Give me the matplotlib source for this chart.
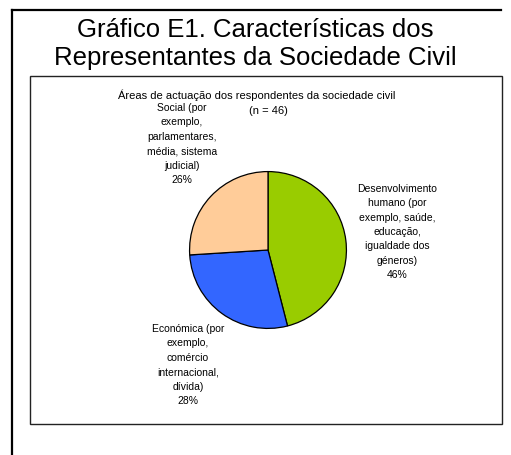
import matplotlib.pyplot as plt
from matplotlib.lines import Line2D
from matplotlib.patches import Rectangle

plt.rcParams['font.family'] = ['Liberation Sans', 'DejaVu Sans']

# areas of activity of civil society respondents (n = 46)
areas = ["Desenvolvimento\nhumano (por\nexemplo, saúde,\neducação,\nigualdade dos\ngéneros)",
         "Económica (por\nexemplo,\ncomércio\ninternacional,\ndívida)",
         "Social (por\nexemplo,\nparlamentares,\nmédia, sistema\njudicial)"]
shares = [46, 28, 26]
colors = ["#99CC00", "#3366FF", "#FFCC99"]
label_pos = [(397, 232), (188, 365), (182, 144)]  # label centres, pixels from top-left

W, H = 511, 455
fig = plt.figure(figsize=(W / 100, H / 100), dpi=100)


def fx(x):
    return x / W


def fy(y):
    return 1 - y / H


# outer frame: only top and left sides
fig.add_artist(Line2D([fx(12), fx(501)], [fy(10), fy(10)], color="black", lw=1.6))
fig.add_artist(Line2D([fx(12), fx(12)], [fy(10), fy(455)], color="black", lw=1.6))

# inner chart box
fig.add_artist(Rectangle((fx(30), fy(424)), fx(502) - fx(30), fy(76) - fy(424),
                         fill=False, edgecolor="#222222", lw=1.0))

fig.text(0.5, fy(37), "Gráfico E1. Características dos", ha="center", va="baseline", fontsize=18.5)
fig.text(0.5, fy(65), "Representantes da Sociedade Civil", ha="center", va="baseline", fontsize=18.5)

fig.text(fx(257), fy(95), "Áreas de actuação dos respondentes da sociedade civil",
         ha="center", va="center", fontsize=8)
fig.text(fx(268), fy(111), "(n = 46)", ha="center", va="center", fontsize=8)

# pie centred at (268, 250), radius 80 px
cx, cy, r = 268, 250, 80
ax = fig.add_axes([fx(cx - r), fy(cy + r), 2 * r / W, 2 * r / H])
ax.pie(shares, colors=colors, startangle=90, counterclock=False, radius=1,
       wedgeprops=dict(edgecolor="black", linewidth=0.9))
ax.set_xlim(-1.02, 1.02)
ax.set_ylim(-1.02, 1.02)
ax.set_aspect("auto")
ax.axis("off")

for name, v, (lx, ly) in zip(areas, shares, label_pos):
    fig.text(fx(lx), fy(ly), f"{name}\n{v}%", ha="center", va="center",
             fontsize=7.5, linespacing=1.55)

fig.savefig("out.png", dpi=100)
